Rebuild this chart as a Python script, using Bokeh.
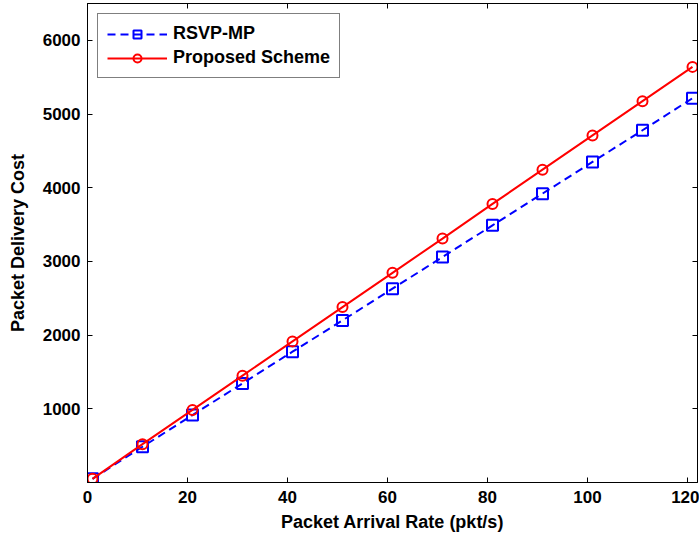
from bokeh.plotting import figure
from bokeh.models import Range1d, FixedTicker, LinearAxis, Legend, LegendItem
from bokeh.embed import file_html
from bokeh.resources import INLINE

# Packet delivery cost versus packet arrival rate
arrival_rate = [1, 11, 21, 31, 41, 51, 61, 71, 81, 91, 101, 111, 121]
rsvp_mp = [50, 485, 915, 1345, 1775, 2200, 2630, 3060, 3490, 3920, 4350, 4780, 5215]
proposed = [50, 520, 985, 1450, 1915, 2380, 2845, 3310, 3780, 4245, 4710, 5175, 5640]

x_ticks = [0, 20, 40, 60, 80, 100, 120]
y_ticks = [1000, 2000, 3000, 4000, 5000, 6000]

FONT = "Liberation Sans"

p = figure(width=699, height=535, output_backend="svg", toolbar_location=None,
           x_range=Range1d(0, 122), y_range=Range1d(0, 6500),
           min_border_left=87, min_border_right=2, min_border_top=3, min_border_bottom=53)
p.background_fill_color = "white"
p.border_fill_color = "white"
p.outline_line_color = "black"
p.outline_line_width = 1
p.grid.visible = False

def style_axis(ax, ticks, show_labels=True):
    ax.ticker = FixedTicker(ticks=ticks)
    ax.axis_line_color = "black"
    ax.major_tick_in = 5
    ax.major_tick_out = 0
    ax.minor_tick_line_color = None
    ax.major_tick_line_color = "black"
    ax.major_label_text_font = FONT
    ax.major_label_text_font_style = "bold"
    ax.major_label_text_font_size = "17px"
    ax.major_label_text_color = "black"
    if not show_labels:
        # mirrored box ticks only, no numbers
        ax.major_label_overrides = {t: "" for t in ticks}
        ax.major_label_text_font_size = "1px"
        ax.major_label_standoff = 0

style_axis(p.xaxis[0], x_ticks)
style_axis(p.yaxis[0], y_ticks)
p.xaxis[0].major_label_standoff = 8
p.yaxis[0].major_label_standoff = 7
p.xaxis[0].axis_label = "Packet Arrival Rate (pkt/s)"
p.yaxis[0].axis_label = "Packet Delivery Cost"
for ax in (p.xaxis[0], p.yaxis[0]):
    ax.axis_label_text_font = FONT
    ax.axis_label_text_font_style = "bold"
    ax.axis_label_text_font_size = "18px"
    ax.axis_label_text_color = "black"
p.xaxis[0].axis_label_standoff = 6
p.yaxis[0].axis_label_standoff = 12

top_ax = LinearAxis()
style_axis(top_ax, x_ticks, show_labels=False)
p.add_layout(top_ax, "above")
right_ax = LinearAxis()
style_axis(right_ax, y_ticks, show_labels=False)
p.add_layout(right_ax, "right")

blue_line = p.line(arrival_rate, rsvp_mp, line_color="#0000ff", line_width=2, line_dash="8 5")
blue_mark = p.scatter(arrival_rate, rsvp_mp, marker="square", size=11, fill_color=None,
                      line_color="#0000ff", line_width=2)
red_line = p.line(arrival_rate, proposed, line_color="#ff0000", line_width=2)
red_mark = p.scatter(arrival_rate, proposed, marker="circle", size=10, fill_color=None,
                     line_color="#ff0000", line_width=2)

legend = Legend(items=[
    LegendItem(label="RSVP-MP", renderers=[blue_line, blue_mark]),
    LegendItem(label="Proposed Scheme", renderers=[red_line, red_mark]),
], location="top_left")
legend.label_text_font = FONT
legend.label_text_font_style = "bold"
legend.label_text_font_size = "18px"
legend.label_text_color = "black"
legend.glyph_width = 60
legend.glyph_height = 20
legend.label_standoff = 6
legend.spacing = 3
legend.padding = 9
legend.margin = 10
legend.border_line_color = "black"
legend.border_line_width = 1
legend.background_fill_alpha = 1
p.add_layout(legend)

open("out.html", "w").write(file_html(p, INLINE))
